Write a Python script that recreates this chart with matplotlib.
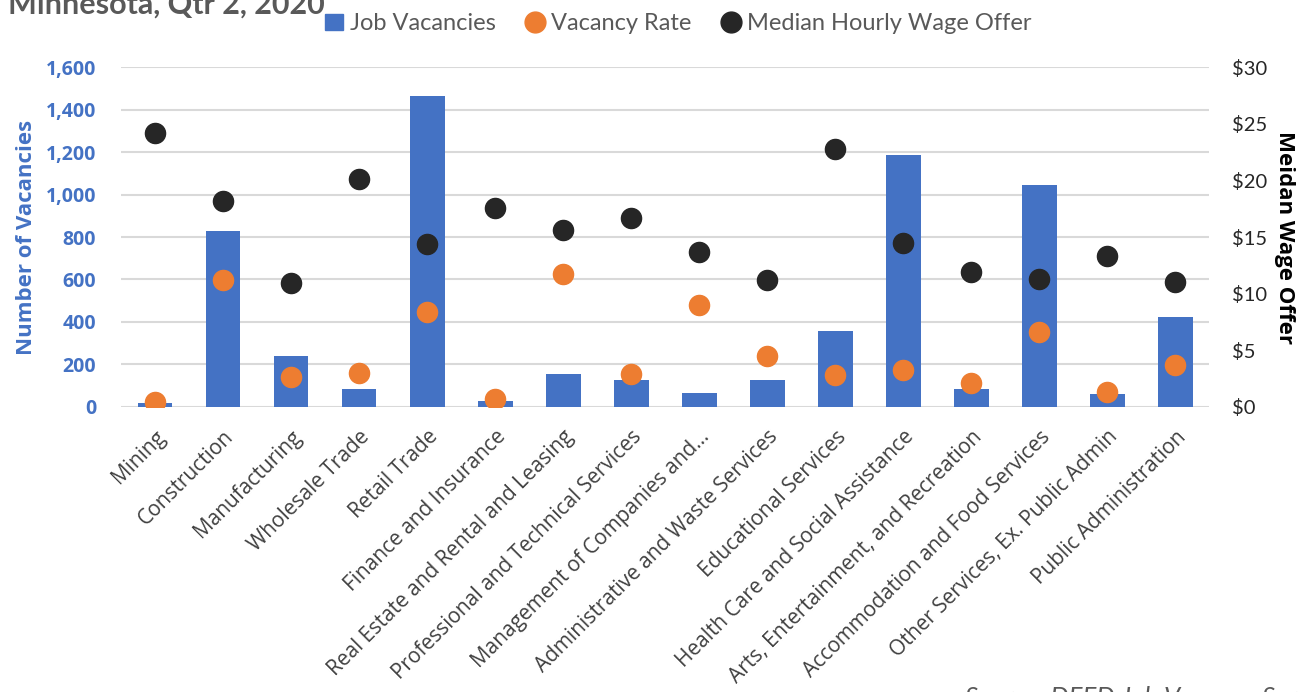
import matplotlib
matplotlib.use("Agg")
import matplotlib.pyplot as plt
from matplotlib.lines import Line2D
from matplotlib.patches import Patch
import numpy as np

plt.rcParams['font.family'] = ['Lato', 'DejaVu Sans']

industries = [
    "Mining", "Construction", "Manufacturing", "Wholesale Trade", "Retail Trade",
    "Finance and Insurance", "Real Estate and Rental and Leasing",
    "Professional and Technical Services", "Management of Companies and...",
    "Administrative and Waste Services", "Educational Services",
    "Health Care and Social Assistance", "Arts, Entertainment, and Recreation",
    "Accommodation and Food Services", "Other Services, Ex. Public Admin",
    "Public Administration",
]
job_vacancies = [20, 830, 240, 85, 1465, 30, 155, 125, 64, 125, 357, 1186, 82, 1046, 63, 424]
vacancy_rate = [0.4, 11.2, 2.6, 3.0, 8.4, 0.7, 11.7, 2.9, 9.0, 4.5, 2.8, 3.3, 2.1, 6.6, 1.3, 3.7]
median_wage = [24.2, 18.2, 10.9, 20.1, 14.4, 17.6, 15.6, 16.7, 13.7, 11.2, 22.8, 14.5, 11.9, 11.3, 13.3, 11.0]

blue = "#4472c4"
orange = "#ed7d31"
dark = "#262626"
gray = "#595959"
sans = ["Open Sans", "DejaVu Sans"]

fig = plt.figure(figsize=(13.16, 6.92), dpi=100)
ax = fig.add_axes([0.092, 0.412, 0.827, 0.491])
ax2 = ax.twinx()

x = np.arange(len(industries))
ax.bar(x, job_vacancies, width=0.51, color=blue, zorder=2)
ax.set_ylim(0, 1600)
ax.set_xlim(-0.5, len(industries) - 0.5)
ax.set_yticks(range(0, 1601, 200))
ax.set_yticklabels([f"{v:,}" for v in range(0, 1601, 200)], family=sans, fontweight="bold")
ax.yaxis.grid(True, color="#d9d9d9", linewidth=1.5, zorder=0)
ax.set_axisbelow(True)
ax.tick_params(axis="y", colors=blue, labelsize=14, length=0, pad=18)
ax.set_ylabel("Number of Vacancies", color=blue, fontsize=16, fontweight="bold",
              family=sans, labelpad=6)

ax.set_xticks(x)
ax.set_xticklabels(industries, rotation=45, ha="right", rotation_mode="anchor",
                   fontsize=15, color="#404040", family=sans)
ax.tick_params(axis="x", length=0, pad=14)

# rate and wage dots share the right-hand scale
ax2.scatter(x, vacancy_rate, s=210, color=orange, zorder=3)
ax2.scatter(x, median_wage, s=210, color=dark, zorder=3)
ax2.set_ylim(0, 30)
ax2.set_yticks(range(0, 31, 5))
ax2.set_yticklabels([f"${v}" for v in range(0, 31, 5)])
ax2.tick_params(axis="y", colors=dark, labelsize=14.5, length=0, pad=16)
ax2.set_ylabel("Meidan Wage Offer", rotation=270, color="black", fontsize=16,
               fontweight="bold", family=sans, labelpad=20)

for a in (ax, ax2):
    for s in a.spines.values():
        s.set_visible(False)

handles = [
    Patch(color=blue, label="Job Vacancies"),
    Line2D([], [], marker="o", linestyle="", markersize=15, color=orange, label="Vacancy Rate"),
    Line2D([], [], marker="o", linestyle="", markersize=15, color=dark, label="Median Hourly Wage Offer"),
]
fig.legend(handles=handles, loc="center left", bbox_to_anchor=(0.231, 0.966), ncol=3,
           frameon=False, fontsize=17, labelcolor=gray, handlelength=0.75,
           handletextpad=0.3, columnspacing=1.3)

fig.text(0.006, 0.981, "Minnesota, Qtr 2, 2020", fontsize=22, fontweight="bold",
         color=gray, va="baseline")
fig.text(0.733, 0.0087, "Source: DEED Job Vacancy Survey", fontsize=18.5, style="italic",
         color=gray, va="top")

fig.savefig("out.png", dpi=100)
